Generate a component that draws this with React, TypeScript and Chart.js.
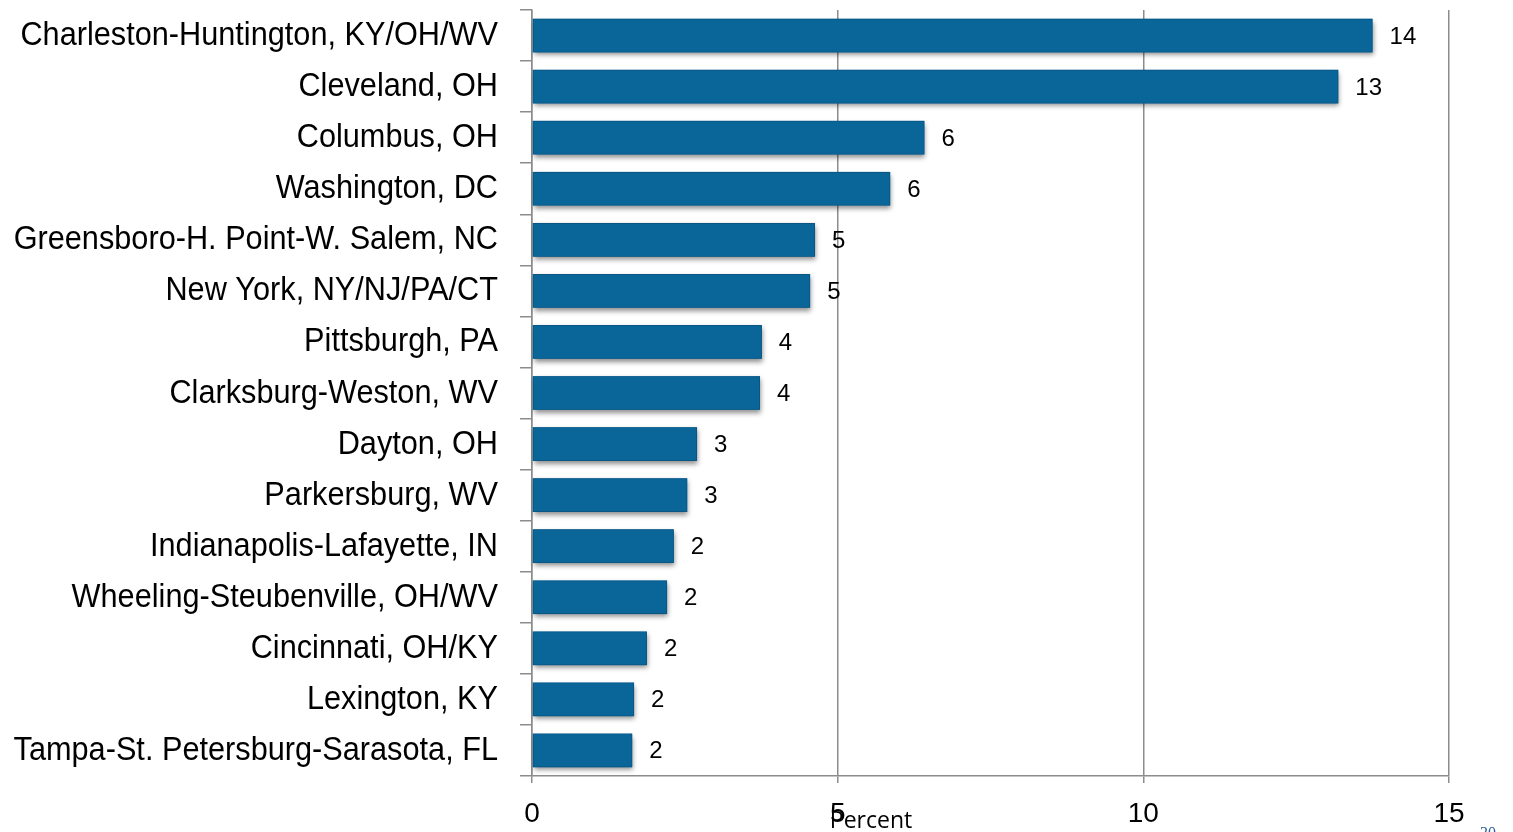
import React, { useEffect, useRef } from "react";
import { Chart, registerables } from "chart.js";

Chart.register(...registerables);

const categories = [
  "Charleston-Huntington, KY/OH/WV",
  "Cleveland, OH",
  "Columbus, OH",
  "Washington, DC",
  "Greensboro-H. Point-W. Salem, NC",
  "New York, NY/NJ/PA/CT",
  "Pittsburgh, PA",
  "Clarksburg-Weston, WV",
  "Dayton, OH",
  "Parkersburg, WV",
  "Indianapolis-Lafayette, IN",
  "Wheeling-Steubenville, OH/WV",
  "Cincinnati, OH/KY",
  "Lexington, KY",
  "Tampa-St. Petersburg-Sarasota, FL",
];

const percentValues = [13.75, 13.19, 6.42, 5.86, 4.63, 4.55, 3.76, 3.73, 2.7, 2.54, 2.32, 2.21, 1.88, 1.67, 1.64];

const xTickValues = [0, 5, 10, 15];
const axisTitle = "Percent";
const pageNumber = "30";

const SANS = "Liberation Sans, Arial, Helvetica, sans-serif";

const barShadow = {
  id: "barShadow",
  beforeDatasetsDraw(chart: any) {
    const ctx = chart.ctx;
    const meta = chart.getDatasetMeta(0);
    ctx.save();
    ctx.shadowColor = "rgba(0,0,0,0.45)";
    ctx.shadowBlur = 5;
    ctx.shadowOffsetX = 1;
    ctx.shadowOffsetY = 3;
    ctx.fillStyle = "#0A6699";
    meta.data.forEach((el: any) => {
      const h = el.height;
      ctx.fillRect(el.base, el.y - h / 2, el.x - el.base, h);
    });
    ctx.restore();
  },
};

const yLabels = {
  id: "yLabels",
  afterDraw(chart: any) {
    const ctx = chart.ctx;
    const ys = chart.scales.y;
    ctx.save();
    ctx.fillStyle = "#000";
    ctx.font = "33px " + SANS;
    ctx.textAlign = "right";
    ctx.textBaseline = "alphabetic";
    categories.forEach((label, i) => {
      const y = ys.getPixelForValue(i);
      ctx.save();
      ctx.translate(498, y + 9.5);
      ctx.scale(0.93, 1);
      ctx.fillText(label, 0, 0);
      ctx.restore();
    });
    ctx.restore();
  },
};

const valueLabels = {
  id: "valueLabels",
  afterDatasetsDraw(chart: any) {
    const ctx = chart.ctx;
    const meta = chart.getDatasetMeta(0);
    const data = chart.data.datasets[0].data as number[];
    ctx.save();
    ctx.fillStyle = "#000";
    ctx.font = "24px " + SANS;
    ctx.textAlign = "left";
    ctx.textBaseline = "alphabetic";
    meta.data.forEach((el: any, i: number) => {
      ctx.fillText(String(Math.round(data[i])), el.x + 17, el.y + 8);
    });
    ctx.restore();
  },
};

const extraText = {
  id: "extraText",
  afterDraw(chart: any) {
    const ctx = chart.ctx;
    ctx.save();
    ctx.fillStyle = "#000";
    ctx.font = "23px Open Sans, DejaVu Sans, sans-serif";
    ctx.textAlign = "center";
    ctx.textBaseline = "alphabetic";
    ctx.fillText(axisTitle, 871, 828);
    ctx.fillStyle = "#2a5d9a";
    ctx.font = "16px Liberation Serif, serif";
    ctx.textAlign = "left";
    ctx.fillText(pageNumber, 1480, 838);
    ctx.restore();
  },
};

export default function App() {
  const ref = useRef<HTMLCanvasElement | null>(null);
  useEffect(() => {
    if (!ref.current) return;
    const chart = new Chart(ref.current, {
      type: "bar",
      data: {
        labels: categories,
        datasets: [
          {
            data: percentValues,
            backgroundColor: "#0A6699",
            borderColor: "#0B5683",
            borderWidth: 1,
            borderSkipped: false,
            barPercentage: 0.66,
            categoryPercentage: 1,
          },
        ],
      },
      options: {
        indexAxis: "y",
        animation: false,
        responsive: true,
        maintainAspectRatio: false,
        layout: { padding: { top: 10, right: 64, left: 0, bottom: 0 } },
        plugins: { legend: { display: false }, tooltip: { enabled: false }, title: { display: false } },
        scales: {
          x: {
            type: "linear",
            min: 0,
            max: 15,
            afterBuildTicks(scale: any) {
              scale.ticks = xTickValues.map((v) => ({ value: v }));
            },
            afterFit(scale: any) {
              scale.height = 56;
              scale.paddingLeft = 0;
              scale.paddingRight = 0;
            },
            grid: { color: "#8c8c8c", lineWidth: 1.5, tickLength: 7, drawOnChartArea: true },
            border: { display: true, color: "#8c8c8c", width: 1.5 },
            ticks: {
              color: "#000",
              font: { family: SANS, size: 28 },
              padding: 14,
              maxRotation: 0,
            },
          },
          y: {
            afterFit(scale: any) {
              scale.width = 532;
              scale.paddingTop = 0;
              scale.paddingBottom = 0;
            },
            grid: { offset: true, drawOnChartArea: false, color: "#8c8c8c", lineWidth: 1.5, tickLength: 12 },
            border: { display: true, color: "#8c8c8c", width: 1.5 },
            ticks: {
              display: false,
              autoSkip: false,
            },
          },
        },
      },
      plugins: [barShadow, valueLabels, yLabels, extraText],
    });
    return () => chart.destroy();
  }, []);
  return (
    <div style={{ position: "fixed", left: 0, top: 0, width: 1513, height: 832, background: "#fff" }}>
      <canvas ref={ref} />
    </div>
  );
}
